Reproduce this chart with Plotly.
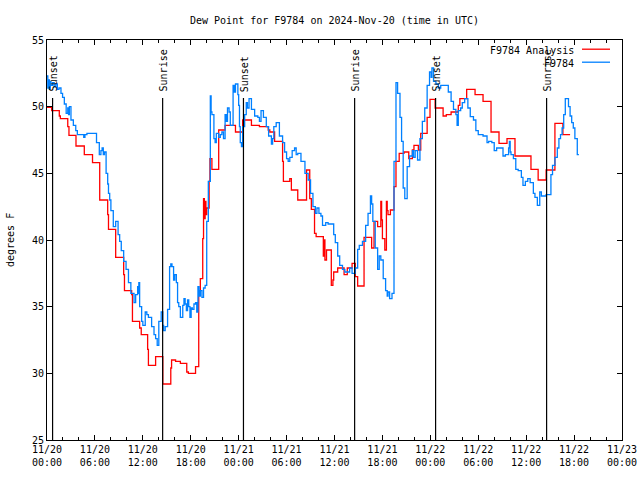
import pandas as pd
import plotly.graph_objects as go

BASE = pd.Timestamp("2024-11-20 00:00")

# ---- data (hours since 2024-11-20 00:00 UTC, dew point in degrees F) ----
analysis_hours = [0.0, 0.58, 1.54, 1.67, 2.6, 2.75, 3.63, 4.67, 5.7, 6.6, 7.6, 7.7, 8.6, 9.6, 9.7,
                  10.6, 10.7, 11.6, 11.8, 12.6, 12.7, 13.6, 14.5, 15.5, 15.6, 16.1, 16.7, 17.5, 17.7,
                  18.6, 19.0, 19.2, 19.5, 19.6, 19.7, 19.8, 19.9, 20.0, 20.3, 20.4, 20.65, 21.5, 22.3,
                  23.6, 24.5, 25.6, 26.6, 27.7, 27.9, 28.5, 29.5, 29.6, 30.4, 30.6, 31.4, 32.5, 32.9,
                  33.1, 33.5, 33.7, 34.6, 34.7, 34.8, 35.0, 35.6, 35.8, 35.9, 36.4, 37.2, 37.6, 38.2,
                  38.6, 38.9, 39.7, 40.65, 40.95, 41.4, 41.8, 41.9, 42.0, 42.3, 42.5, 42.6, 42.7, 43.0,
                  43.45, 43.7, 44.1, 44.7, 45.3, 45.75, 45.95, 46.5, 46.8, 47.6, 47.96, 48.6, 49.6,
                  50.0, 50.6, 51.5, 51.7, 52.55, 53.6, 54.6, 55.6, 56.6, 57.6, 58.6, 60.6, 61.5, 62.5,
                  63.6, 64.6, 65.5]
analysis_values = [49.95, 49.7, 49.3, 49.1, 48.5, 47.85, 47.05, 46.4, 45.8, 43.0, 41.9, 40.8, 38.7, 37.4, 36.2,
                   35.9, 33.9, 33.4, 32.9, 31.8, 30.6, 31.25, 29.2, 30.4, 31.0, 30.9, 30.75, 30.1, 30.0,
                   30.5, 35.9, 37.1, 40.1, 43.1, 41.6, 42.9, 41.9, 42.4, 44.4, 46.1, 45.3, 48.25, 48.6,
                   48.1, 49.0, 48.6, 48.5, 48.25, 48.1, 47.4, 45.9, 44.4, 44.6, 43.75, 43.0, 45.25, 43.1,
                   42.3, 40.5, 40.25, 38.8, 40.0, 38.5, 39.25, 36.6, 37.0, 37.6, 37.9, 37.4, 37.9, 38.25,
                   37.25, 36.55, 40.2, 39.4, 41.4, 41.0, 42.9, 41.5, 40.1, 39.25, 42.9, 42.2, 41.9, 42.25,
                   44.0, 45.9, 46.5, 46.6, 46.1, 46.75, 47.1, 46.75, 48.0, 49.2, 50.55, 49.9, 49.3,
                   49.4, 49.6, 50.1, 50.6, 51.3, 50.9, 50.4, 48.1, 47.25, 47.6, 46.3, 45.3, 44.5, 45.25,
                   48.75, 47.9, 47.9]

station_hours = [0.0, 0.1, 0.2, 0.3, 0.4, 0.5, 0.7, 0.9, 1.1, 1.3, 1.5, 1.75, 1.95, 2.17, 2.4, 2.6, 2.7,
                 2.8, 3.0, 3.3, 3.6, 3.8, 4.6, 4.75, 5.0, 6.2, 6.55, 6.75, 6.9, 7.05, 7.2, 7.4, 7.6, 7.7,
                 7.85, 8.0, 8.3, 8.6, 8.9, 9.1, 9.3, 9.6, 9.9, 10.2, 10.5, 10.9, 11.1, 11.35, 11.45, 11.5,
                 11.6, 11.85, 12.0, 12.3, 12.5, 12.7, 13.1, 13.4, 13.6, 13.8, 14.0, 14.3, 14.5, 14.6,
                 14.8, 15.1, 15.35, 15.5, 15.65, 15.85, 16.0, 16.2, 16.35, 16.5, 16.7, 17.0, 17.15,
                 17.3, 17.45, 17.6, 17.75, 17.9, 18.05, 18.2, 18.4, 18.6, 18.75, 18.9, 19.05, 19.2,
                 19.4, 19.6, 19.8, 20.0, 20.2, 20.45, 20.55, 20.65, 20.9, 21.05, 21.2, 21.5, 21.7,
                 21.9, 22.1, 22.3, 22.45, 22.6, 22.8, 22.95, 23.3, 23.45, 23.6, 23.9, 24.0, 24.1, 24.2,
                 24.35, 24.5, 24.75, 24.95, 25.1, 25.3, 25.6, 26.0, 26.4, 26.6, 26.8, 27.1, 27.46,
                 27.75, 28.1, 28.25, 28.4, 28.7, 29.1, 29.5, 29.75, 30.0, 30.2, 30.4, 30.7, 31.0, 31.2,
                 31.4, 31.8, 32.3, 32.7, 33.0, 33.3, 33.6, 33.8, 34.05, 34.3, 34.5, 34.9, 35.2, 35.9,
                 36.1, 36.4, 36.65, 37.0, 37.3, 37.9, 38.2, 38.6, 38.9, 39.1, 39.5, 39.9, 40.2, 40.5,
                 40.65, 40.8, 41.1, 41.4, 41.6, 41.8, 42.1, 42.4, 42.6, 42.7, 42.9, 43.2, 43.45, 43.7,
                 43.9, 44.2, 44.4, 44.6, 44.8, 45.1, 45.4, 45.75, 45.9, 46.1, 46.4, 46.7, 47.0, 47.3,
                 47.6, 47.9, 48.1, 48.2, 48.4, 48.7, 49.0, 49.3, 50.25, 50.6, 50.9, 51.2, 51.35, 51.5,
                 51.8, 52.0, 52.3, 52.7, 53.0, 53.4, 53.7, 54.0, 54.6, 55.1, 55.3, 55.7, 56.0, 56.3,
                 57.1, 57.4, 57.8, 57.9, 58.0, 58.1, 58.4, 58.7, 59.0, 59.4, 59.6, 59.9, 60.2, 60.5,
                 60.9, 61.1, 61.4, 61.7, 61.9, 62.5, 63.1, 63.3, 63.6, 63.9, 64.1, 64.3, 64.5, 64.7,
                 64.9, 65.3, 65.5, 65.7, 65.9, 66.1, 66.4, 66.6]
station_values = [52.3, 51.4, 52.0, 51.3, 51.9, 51.6, 51.8, 51.5, 51.7, 51.3, 51.4, 51.0, 50.7, 50.2, 49.5, 49.9, 49.4,
                  50.0, 49.0, 48.6, 48.2, 47.9, 47.7, 47.9, 48.0, 47.3, 46.4, 46.7, 46.9, 46.4, 46.6, 45.0, 44.2, 43.5,
                  43.0, 42.2, 41.0, 41.4, 40.4, 39.9, 39.2, 38.4, 37.8, 36.8, 36.0, 35.3, 35.9, 36.5, 36.0, 36.8,
                  35.0, 33.9, 33.6, 34.6, 34.4, 34.2, 33.5, 32.9, 32.6, 32.1, 33.9, 34.6, 33.6, 33.2,
                  33.5, 34.8, 38.0, 38.2, 38.0, 37.0, 37.4, 36.8, 35.3, 35.0, 34.2, 35.1, 35.6,
                  35.2, 34.7, 35.5, 35.0, 34.2, 34.9, 34.8, 35.2, 35.3, 34.6, 36.5, 35.8, 36.2,
                  35.7, 36.4, 36.6, 41.4, 44.4, 50.8, 49.6, 49.4, 47.6, 47.3, 48.0, 47.7, 47.9,
                  48.1, 47.6, 49.4, 48.9, 49.9, 49.6, 48.6, 51.6, 51.1, 51.7, 50.9, 50.1, 48.5, 47.3,
                  47.0, 48.5, 49.4, 50.3, 49.9, 50.6, 49.8, 49.3, 49.2, 48.9, 49.7, 49.2, 48.5,
                  47.8, 47.2, 47.6, 48.5, 48.8, 47.8, 47.3, 46.6, 46.1, 45.9, 46.2, 46.7, 46.9, 46.4,
                  46.5, 45.9, 45.0, 44.5, 43.5, 42.5, 42.0, 42.4, 42.0, 41.8, 41.1, 41.3, 41.2, 40.4,
                  39.8, 38.8, 38.1, 37.8, 37.6, 37.9, 37.5, 37.9, 39.3, 39.6, 39.9, 41.1, 42.0, 43.3,
                  42.7, 41.4, 39.4, 37.8, 38.8, 38.5, 37.1, 36.2, 35.8, 36.1, 35.6, 36.0, 45.9, 51.8,
                  51.0, 49.2, 47.4, 43.9, 43.1, 45.5, 46.3, 46.7, 46.2, 46.7, 46.0, 47.6, 48.9, 49.9,
                  51.6, 52.6, 52.2, 52.9, 51.9, 51.7, 51.4, 51.6, 51.1, 50.4, 49.8, 49.4, 48.6, 49.7,
                  49.9, 50.3, 50.6, 49.9, 49.25, 49.0, 48.2, 47.9, 47.8, 47.3, 47.4, 47.3, 46.7, 46.9,
                  46.3, 46.4, 46.9, 47.4, 46.6, 46.4, 46.1, 45.3, 45.2, 44.7, 44.1, 44.4, 44.6, 44.3,
                  43.5, 43.2, 42.6, 43.6, 43.3, 43.4, 44.9, 45.6, 46.2, 46.9, 47.6, 47.9, 48.4, 49.4,
                  50.6, 50.0, 49.3, 48.8, 48.4, 47.6, 46.4, 46.4]

sun_labels = ["Sunset", "Sunrise", "Sunset", "Sunrise", "Sunset", "Sunrise"]
sun_hours = [0.70, 14.48, 24.6, 38.52, 48.66, 62.56]

series_names = ["F9784 Analysis", "F9784"]
series_colors = ["#ff0000", "#0080ff"]

y_ticks = [25, 30, 35, 40, 45, 50, 55]


def to_time(hours):
    return BASE + pd.to_timedelta(hours, unit="h")


FONT = "DejaVu Sans Mono"

fig = go.Figure()
fig.add_trace(go.Scatter(x=to_time(analysis_hours), y=analysis_values, mode="lines",
                         line=dict(color=series_colors[0], width=1.3, shape="hv"),
                         name=series_names[0], showlegend=False))
fig.add_trace(go.Scatter(x=to_time(station_hours), y=station_values, mode="lines",
                         line=dict(color=series_colors[1], width=1.3, shape="hv"),
                         name=series_names[1], showlegend=False))

shapes = []
annotations = []
for lab, h in zip(sun_labels, sun_hours):
    t = to_time(h)
    shapes.append(dict(type="line", xref="x", yref="paper", x0=t, x1=t, y0=0, y1=0.855,
                       line=dict(color="black", width=1.2), layer="above"))
    annotations.append(dict(x=t, y=0.868, xref="x", yref="paper", text=lab, textangle=-90,
                            showarrow=False, xanchor="center", yanchor="bottom", xshift=1,
                            borderpad=0, font=dict(family=FONT, size=10, color="black")))

# gnuplot-style key (text right-aligned, line sample to the right)
key_rows_y = [1 - (50 - 40) / 400, 1 - (63 - 40) / 400]
for name, col, ky in zip(series_names, series_colors, key_rows_y):
    annotations.append(dict(x=(575 - 47) / 575, y=ky, xref="paper", yref="paper", text=name,
                            showarrow=False, xanchor="right", yanchor="middle", borderpad=0,
                            font=dict(family=FONT, size=10, color="black")))
    shapes.append(dict(type="line", xref="paper", yref="paper", x0=(582 - 47) / 575,
                       x1=(610 - 47) / 575, y0=ky + 0.002, y1=ky + 0.002,
                       line=dict(color=col, width=1.3)))

annotations.append(dict(x=(10 - 47) / 575, y=0.5, xref="paper", yref="paper", text="degrees F",
                        textangle=-90, showarrow=False, xanchor="center", yanchor="middle",
                        font=dict(family=FONT, size=10, color="black")))

fig.update_layout(
    width=640, height=480,
    margin=dict(l=47, r=18, t=40, b=40),
    paper_bgcolor="white", plot_bgcolor="white",
    font=dict(family=FONT, size=10, color="black"),
    title=dict(text="Dew Point for F9784 on 2024-Nov-20 (time in UTC)", x=0.5, xref="paper",
               y=1 - 20 / 480, yref="container", xanchor="center", yanchor="middle",
               font=dict(family=FONT, size=10, color="black")),
    shapes=shapes, annotations=annotations,
    showlegend=False,
)
fig.update_xaxes(
    range=[to_time(0), to_time(72)], type="date", automargin=False,
    tick0=to_time(0), dtick=6 * 3600 * 1000, tickformat="%m/%d<br>%H:%M",
    ticks="inside", ticklen=5, tickcolor="black", tickwidth=1,
    showline=True, linecolor="black", linewidth=1, mirror="ticks",
    showgrid=False, zeroline=False,
    minor=dict(dtick=2 * 3600 * 1000, tick0=to_time(0), ticks="inside", ticklen=3,
               tickcolor="black", showgrid=False),
)
fig.update_yaxes(
    range=[25, 55], tickvals=y_ticks, ticktext=[str(v) for v in y_ticks], automargin=False,
    ticks="inside", ticklen=5, tickcolor="black", tickwidth=1,
    showline=True, linecolor="black", linewidth=1, mirror="ticks",
    showgrid=False, zeroline=False,
)

fig.write_html("out.html", config={"displayModeBar": False},
               post_script="document.body.style.margin='0';document.body.style.padding='0';")
